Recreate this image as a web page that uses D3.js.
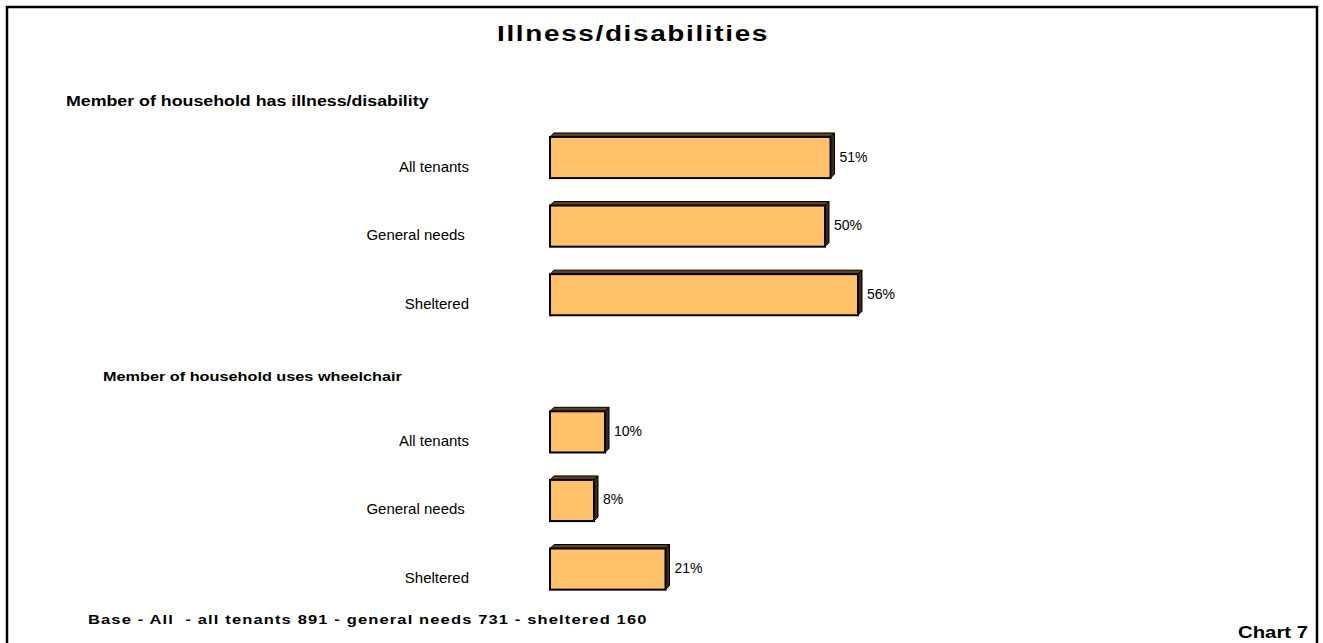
<!DOCTYPE html>
<html>
<head>
<meta charset="utf-8">
<script src="https://cdn.jsdelivr.net/npm/d3@7"></script>
<style>
  html, body { margin: 0; padding: 0; background: #fff; }
  svg text { font-family: "Liberation Sans", Arial, sans-serif; fill: #000; }
</style>
</head>
<body>
<svg id="chart" width="1323" height="643"></svg>
<script>
// Chart content
const titleText = "Illness/disabilities";
const groupHeadings = ["Member of household has illness/disability", "Member of household uses wheelchair"];
const categories = ["All tenants", "General needs", "Sheltered"];
const illnessValues = [51, 50, 56];
const wheelchairValues = [10, 8, 21];
const footnote = "Base - All  - all tenants 891 - general needs 731 - sheltered 160";
const chartLabel = "Chart 7";

// Rows: group 1, an empty spacer slot, group 2
const rows = [
  ...categories.map((c, i) => ({ key: "a" + i, label: c, value: illnessValues[i] })),
  { key: "gap", label: null, value: null },
  ...categories.map((c, i) => ({ key: "b" + i, label: c, value: wheelchairValues[i] }))
];

const svg = d3.select("#chart");
const STRETCH = 1.27;   // bold captions are set a little wider than normal

const x = d3.scaleLinear().domain([0, 100]).range([550, 1100]);
const y = d3.scaleBand().domain(rows.map(r => r.key)).range([109.5, 617.1])
  .paddingInner(0.4).paddingOuter(0.4);

// outer frame (bottom edge runs past the page)
svg.append("rect").attr("x", 7).attr("y", 7).attr("width", 1310).attr("height", 700)
  .attr("fill", "none").attr("stroke", "#000").attr("stroke-width", 2.5);

function label(g, text, px, py, size, weight, anchor, sx) {
  return g.append("text")
    .attr("transform", `translate(${px},${py}) scale(${sx == null ? STRETCH : sx},1)`)
    .attr("text-anchor", anchor || "start")
    .attr("font-size", size)
    .attr("font-weight", weight || "normal")
    .text(text);
}

label(svg, titleText, 633, 41, 22, "bold", "middle").attr("letter-spacing", 1.3);
label(svg, groupHeadings[0], 66, 106, 14, "bold");
label(svg, groupHeadings[1], 103, 381, 12.8, "bold");

const depth = 4;
const bars = svg.append("g");
rows.filter(r => r.value != null).forEach(r => {
  const x0 = x(0), x1 = x(r.value), y0 = y(r.key), h = y.bandwidth();
  const g = bars.append("g");
  // top face
  g.append("path")
    .attr("d", `M${x0},${y0} L${x0 + depth},${y0 - depth} L${x1 + depth},${y0 - depth} L${x1},${y0} Z`)
    .attr("fill", "#5e4218").attr("stroke", "#000").attr("stroke-width", 1).attr("stroke-linejoin", "round");
  // side face
  g.append("path")
    .attr("d", `M${x1},${y0} L${x1 + depth},${y0 - depth} L${x1 + depth},${y0 + h - depth} L${x1},${y0 + h} Z`)
    .attr("fill", "#3b2a10").attr("stroke", "#000").attr("stroke-width", 1).attr("stroke-linejoin", "round");
  // front face
  g.append("rect").attr("x", x0).attr("y", y0).attr("width", x1 - x0).attr("height", h)
    .attr("fill", "#ffc06a").attr("stroke", "#000").attr("stroke-width", 2);

  label(svg, r.value + "%", x1 + 9, y0 + h / 2 + 4, 14, "normal", "start", 1);
  label(svg, r.key === "a1" || r.key === "b1" ? r.label + "\u00a0" : r.label,
        469, y0 + h / 2 + 14, 15, "normal", "end", 1);
});

label(svg, footnote, 88, 624, 13, "bold").attr("letter-spacing", 0.9).style("white-space", "pre");
label(svg, chartLabel, 1308, 638, 16, "bold", "end");
</script>
</body>
</html>
